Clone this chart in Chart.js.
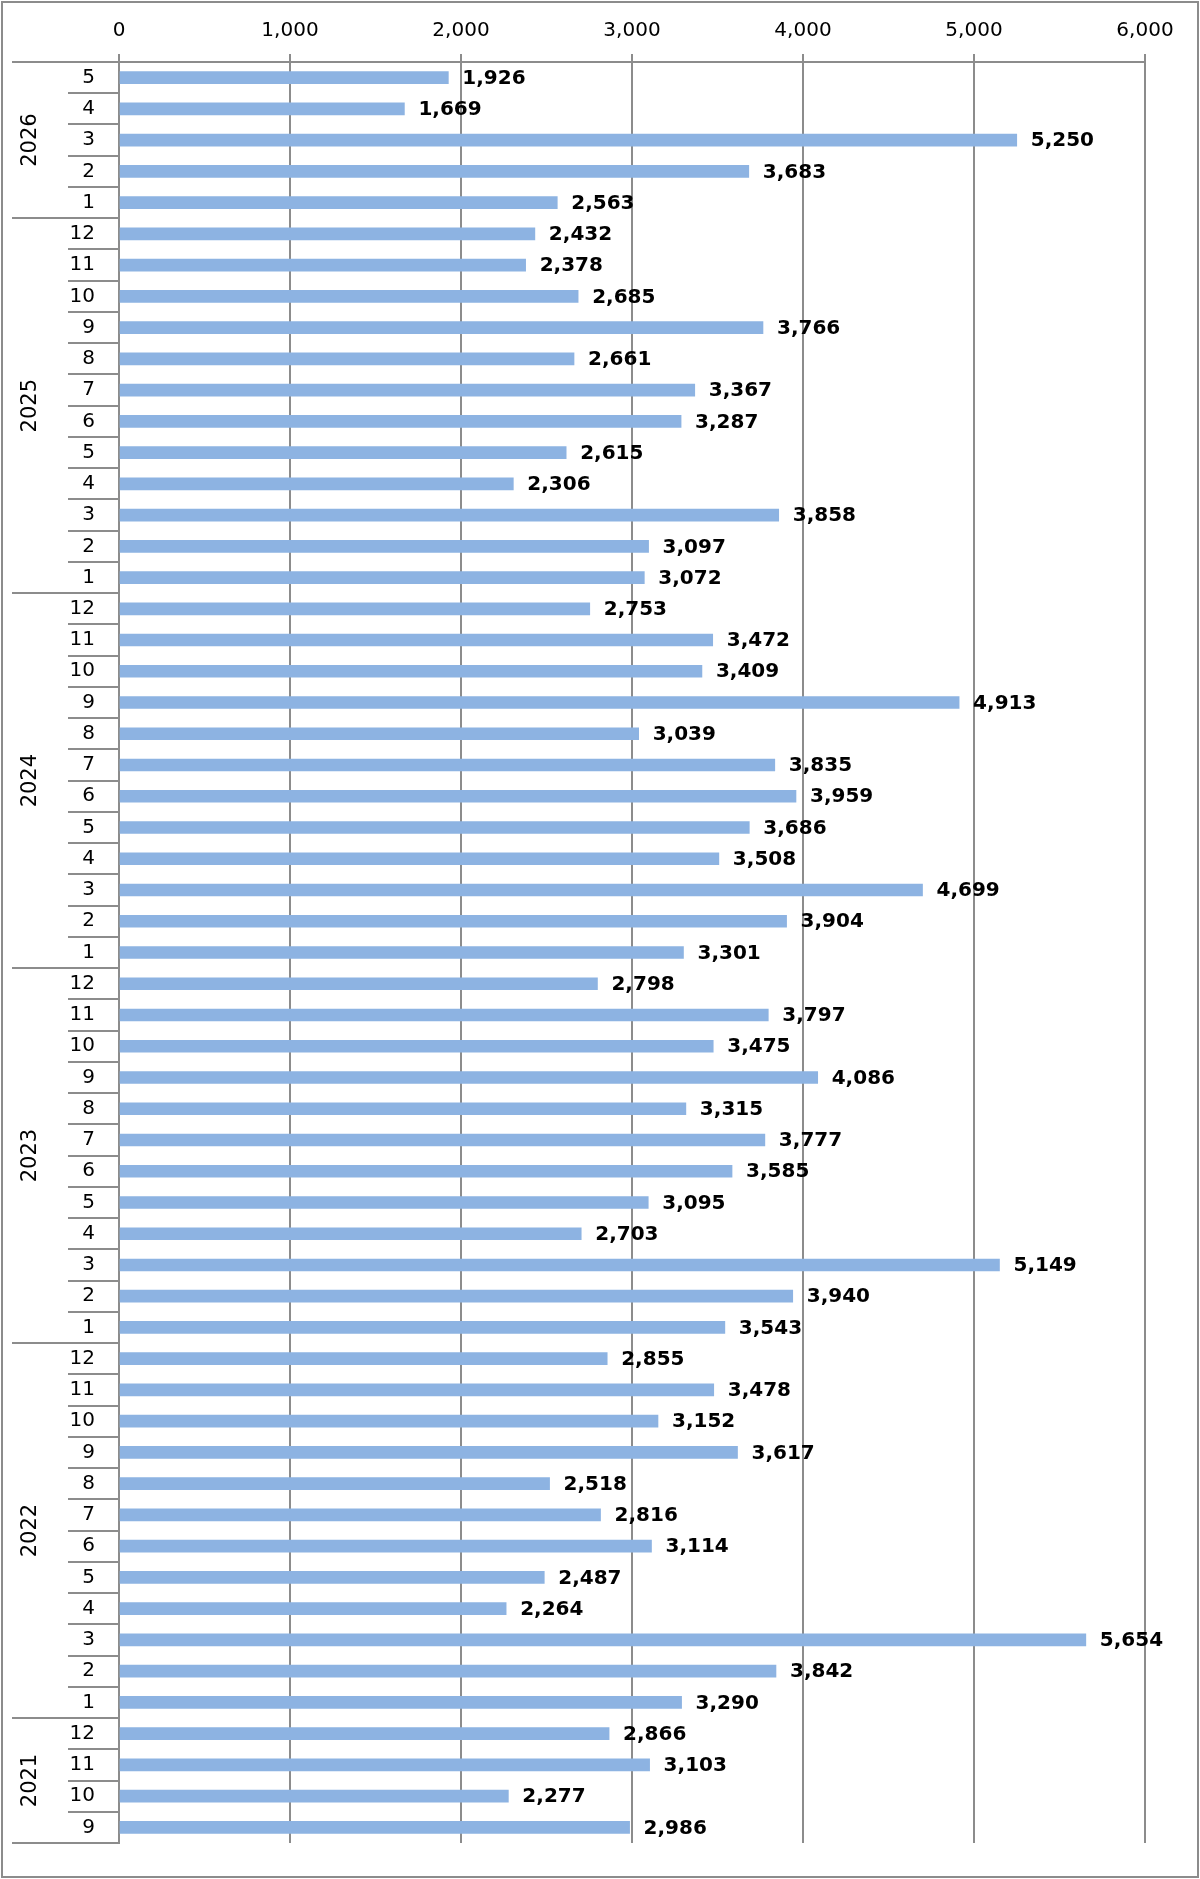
<!DOCTYPE html>
<html>
<head>
<meta charset="utf-8">
<script src="https://cdn.jsdelivr.net/npm/chart.js@4/dist/chart.umd.min.js"></script>
<style>
  html, body { margin: 0; padding: 0; background: #fff; }
  canvas { display: block; }
</style>
</head>
<body>
<canvas id="chart" width="1200" height="1879"></canvas>
<script>
// years top to bottom, with their months (newest first)
const years = ['2026', '2025', '2024', '2023', '2022', '2021'];
const months2026 = ['5', '4', '3', '2', '1'];
const monthsFull = ['12', '11', '10', '9', '8', '7', '6', '5', '4', '3', '2', '1'];
const months2021 = ['12', '11', '10', '9'];

const values2026 = [1926, 1669, 5250, 3683, 2563];
const values2025 = [2432, 2378, 2685, 3766, 2661, 3367, 3287, 2615, 2306, 3858, 3097, 3072];
const values2024 = [2753, 3472, 3409, 4913, 3039, 3835, 3959, 3686, 3508, 4699, 3904, 3301];
const values2023 = [2798, 3797, 3475, 4086, 3315, 3777, 3585, 3095, 2703, 5149, 3940, 3543];
const values2022 = [2855, 3478, 3152, 3617, 2518, 2816, 3114, 2487, 2264, 5654, 3842, 3290];
const values2021 = [2866, 3103, 2277, 2986];

const xTicks = [0, 1000, 2000, 3000, 4000, 5000, 6000];

const monthGroups = [months2026, monthsFull, monthsFull, monthsFull, monthsFull, months2021];
const valueGroups = [values2026, values2025, values2024, values2023, values2022, values2021];

const labels = monthGroups.flat();
const values = valueGroups.flat();

const FONT = '"DejaVu Sans", Verdana, sans-serif';
const LINE = '#8c8c8c';

// 외곽 테두리
const framePlugin = {
  id: 'frame',
  beforeDraw(chart) {
    const ctx = chart.ctx;
    ctx.save();
    ctx.fillStyle = '#fff';
    ctx.fillRect(0, 0, chart.width, chart.height);
    ctx.strokeStyle = LINE;
    ctx.lineWidth = 2;
    ctx.strokeRect(2, 2, chart.width - 4, chart.height - 4);
    ctx.restore();
  }
};

// 월/연도 구분선과 연도 라벨
const groupAxisPlugin = {
  id: 'groupAxis',
  afterDraw(chart) {
    const ctx = chart.ctx;
    const y = chart.scales.y;
    const left = chart.chartArea.left;
    ctx.save();
    ctx.strokeStyle = LINE;
    ctx.lineWidth = 2;
    let start = 0;
    monthGroups.forEach((months, g) => {
      const end = start + months.length;
      for (let i = start; i <= end; i++) {
        const py = Math.round(y.getPixelForValue(i - 0.5));
        const isYearEdge = (i === start || i === end);
        ctx.beginPath();
        ctx.moveTo(isYearEdge ? 12 : 68, py);
        ctx.lineTo(left, py);
        ctx.stroke();
      }
      const mid = (y.getPixelForValue(start - 0.5) + y.getPixelForValue(end - 0.5)) / 2;
      ctx.save();
      ctx.translate(31, mid);
      ctx.rotate(-Math.PI / 2);
      ctx.fillStyle = '#000';
      ctx.font = '21px ' + FONT;
      ctx.textAlign = 'center';
      ctx.textBaseline = 'middle';
      ctx.fillText(years[g], 0, 0);
      ctx.restore();
      start = end;
    });
    ctx.restore();
  }
};

// 막대 끝 값 라벨
const valueLabelPlugin = {
  id: 'valueLabels',
  afterDatasetsDraw(chart) {
    const ctx = chart.ctx;
    const meta = chart.getDatasetMeta(0);
    ctx.save();
    ctx.fillStyle = '#000';
    ctx.font = 'bold 20px ' + FONT;
    ctx.textAlign = 'left';
    ctx.textBaseline = 'middle';
    meta.data.forEach((bar, i) => {
      ctx.fillText(values[i].toLocaleString('en-US'), bar.x + 14, bar.y + 1);
    });
    ctx.restore();
  }
};

new Chart(document.getElementById('chart'), {
  type: 'bar',
  data: {
    labels: labels,
    datasets: [{
      data: values,
      backgroundColor: '#8db3e2',
      borderWidth: 0,
      barThickness: 12
    }]
  },
  options: {
    indexAxis: 'y',
    responsive: false,
    animation: false,
    devicePixelRatio: 1,
    layout: { padding: { left: 0, top: 0, right: 55, bottom: 30 } },
    plugins: {
      legend: { display: false },
      tooltip: { enabled: false }
    },
    scales: {
      x: {
        position: 'top',
        min: xTicks[0],
        max: xTicks[xTicks.length - 1],
        afterBuildTicks: scale => { scale.ticks = xTicks.map(v => ({ value: v })); },
        afterFit: scale => { scale.height = 62; },
        ticks: {
          color: '#000',
          font: { family: FONT, size: 20 },
          padding: 11,
          callback: v => v.toLocaleString('en-US')
        },
        grid: { color: LINE, lineWidth: 2, tickLength: 8 },
        border: { color: LINE, width: 2 }
      },
      y: {
        offset: true,
        afterFit: scale => { scale.width = 119; },
        ticks: {
          color: '#000',
          font: { family: FONT, size: 20 },
          padding: 24,
          autoSkip: false
        },
        grid: { display: true, drawOnChartArea: false, drawTicks: false },
        border: { color: LINE, width: 2 }
      }
    }
  },
  plugins: [framePlugin, groupAxisPlugin, valueLabelPlugin]
});
</script>
</body>
</html>
